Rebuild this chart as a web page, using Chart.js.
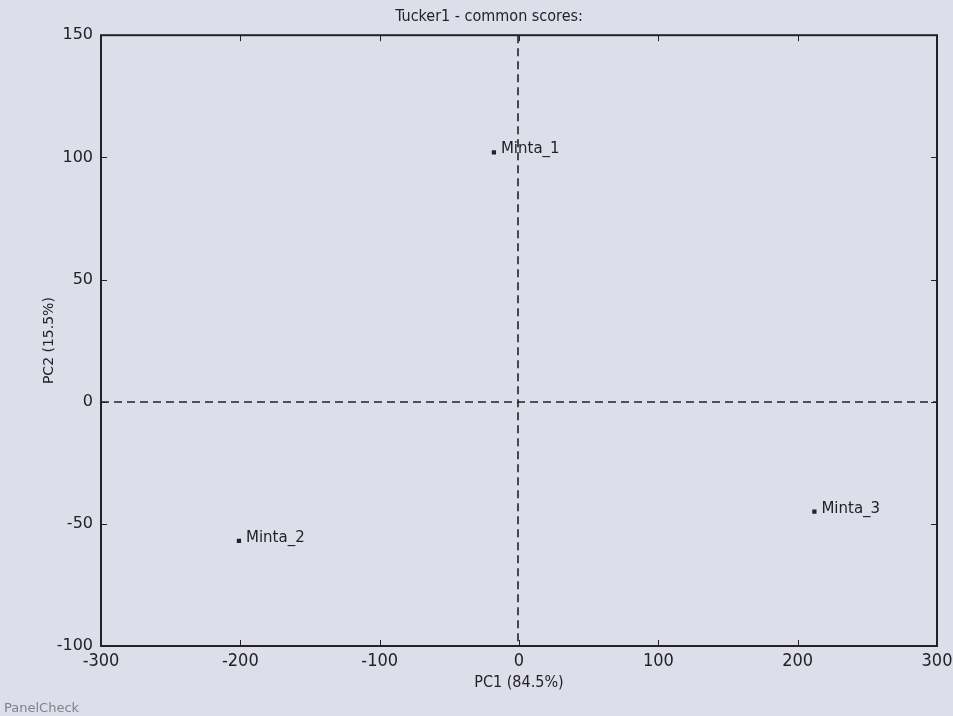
<!DOCTYPE html>
<html>
<head>
<meta charset="utf-8">
<script src="https://cdn.jsdelivr.net/npm/chart.js@4.4.1/dist/chart.umd.min.js"></script>
<style>
  html, body { margin: 0; padding: 0; background: #dddee9; }
  #wrap { position: relative; width: 953px; height: 716px; }
</style>
</head>
<body>
<div id="wrap"><canvas id="scores"></canvas></div>
<script>
// scores
const sampleNames = ['Minta_1', 'Minta_2', 'Minta_3'];
const pc1Scores = [-18, -201, 212];
const pc2Scores = [102, -57, -45];
const xTicks = [-300, -200, -100, 0, 100, 200, 300];
const yTicks = [-100, -50, 0, 50, 100, 150];

const ink = '#222226';
const narrow = '"Liberation Sans Narrow", "DejaVu Sans Condensed", "Liberation Sans", sans-serif';
const plain = '"DejaVu Sans", "Open Sans", sans-serif';

const points = sampleNames.map((n, i) => ({ x: pc1Scores[i], y: pc2Scores[i], name: n }));

// matplotlib look: inward ticks on all sides, dashed zero lines, point labels
const decor = {
    id: 'decor',
    beforeDatasetsDraw(chart) {
        const { ctx, chartArea: a, scales: { x, y } } = chart;
        ctx.save();
        ctx.strokeStyle = ink;
        ctx.lineWidth = 1.6;
        ctx.setLineDash([8, 5]);
        const x0 = Math.round(x.getPixelForValue(0)) - 1;
        const y0 = Math.round(y.getPixelForValue(0));
        ctx.beginPath();
        ctx.moveTo(x0, a.top); ctx.lineTo(x0, a.bottom);
        ctx.moveTo(a.left, y0); ctx.lineTo(a.right, y0);
        ctx.stroke();
        ctx.setLineDash([]);
        ctx.lineWidth = 1;
        ctx.beginPath();
        const len = 6;
        xTicks.forEach(v => {
            const px = Math.round(x.getPixelForValue(v)) + 0.5;
            ctx.moveTo(px, a.bottom); ctx.lineTo(px, a.bottom - len);
            ctx.moveTo(px, a.top); ctx.lineTo(px, a.top + len);
        });
        yTicks.forEach(v => {
            const py = Math.round(y.getPixelForValue(v)) + 0.5;
            ctx.moveTo(a.left, py); ctx.lineTo(a.left + len, py);
            ctx.moveTo(a.right, py); ctx.lineTo(a.right - len, py);
        });
        ctx.stroke();
        ctx.lineWidth = 2;
        ctx.strokeRect(a.left, a.top, a.right - a.left, a.bottom - a.top);
        ctx.restore();
    },
    afterDatasetsDraw(chart) {
        const { ctx } = chart;
        const meta = chart.getDatasetMeta(0);
        ctx.save();
        ctx.fillStyle = ink;
        ctx.font = '15px ' + plain;
        ctx.textBaseline = 'middle';
        meta.data.forEach((el, i) => {
            ctx.fillText(points[i].name, el.x + 7, el.y - 3);
        });
        ctx.fillStyle = '#80818a';
        ctx.font = '13px ' + plain;
        ctx.textBaseline = 'alphabetic';
        ctx.fillText('PanelCheck', 4, 712);
        ctx.restore();
    }
};

new Chart(document.getElementById('scores'), {
    type: 'scatter',
    data: {
        datasets: [{
            data: points,
            pointStyle: 'rect',
            radius: 3,
            backgroundColor: ink,
            borderColor: ink,
            borderWidth: 0
        }]
    },
    options: {
        responsive: true,
        maintainAspectRatio: false,
        animation: false,
        layout: { padding: { left: 41, right: 16, top: 0, bottom: 20 } },
        plugins: {
            legend: { display: false },
            tooltip: { enabled: false },
            title: {
                display: true,
                text: 'Tucker1 - common scores:',
                color: ink,
                font: { family: narrow, size: 16, weight: 'normal' },
                padding: { top: 7, bottom: 9 }
            }
        },
        scales: {
            x: {
                type: 'linear',
                min: -300, max: 300,
                afterBuildTicks: s => { s.ticks = xTicks.map(v => ({ value: v })); },
                afterFit: s => { s.height = 50; s.paddingLeft = 0; s.paddingRight = 0; },
                grid: { display: false, drawTicks: false },
                border: { display: false },
                ticks: { color: ink, padding: 5, font: { family: narrow, size: 18 } },
                title: {
                    display: true, text: 'PC1 (84.5%)', color: ink,
                    font: { family: narrow, size: 16 }, padding: { top: 0, bottom: 4 }
                }
            },
            y: {
                type: 'linear',
                min: -100, max: 150,
                afterBuildTicks: s => { s.ticks = yTicks.map(v => ({ value: v })); },
                afterFit: s => { s.width = 60; s.paddingTop = 0; s.paddingBottom = 0; },
                grid: { display: false, drawTicks: false },
                border: { display: false },
                ticks: { color: ink, padding: 8, font: { family: plain, size: 16 } },
                title: {
                    display: true, text: 'PC2 (15.5%)', color: ink,
                    font: { family: plain, size: 14 }, padding: 0
                }
            }
        }
    },
    plugins: [decor]
});
</script>
</body>
</html>
